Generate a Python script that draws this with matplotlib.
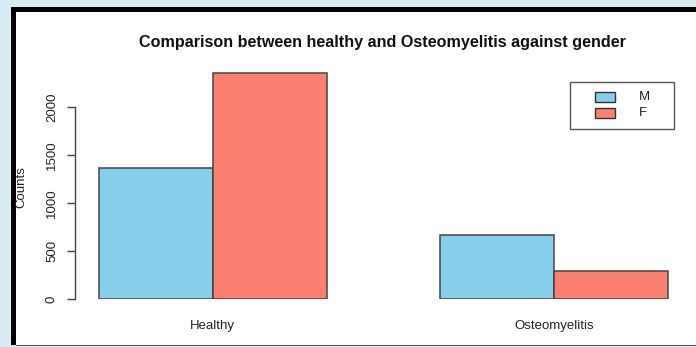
import matplotlib.pyplot as plt
from matplotlib.patches import Rectangle

# counts per group and gender
groups = ["Healthy", "Osteomyelitis"]
male = [1365, 667]
female = [2354, 292]
genders = ["M", "F"]
colors = ["#87CEEB", "#FA8072"]
yticks = [0, 500, 1000, 1500, 2000]

W, H = 696, 347
plt.rcParams['font.family'] = ['Liberation Sans', 'DejaVu Sans']

fig = plt.figure(figsize=(W / 100, H / 100), dpi=100, facecolor="#d6ebf2")


def fx(x):
    return x / W


def fy(y):
    return 1 - y / H


# white panel with black frame on top/left, grey line at the bottom
fig.patches.append(Rectangle((fx(16), fy(345)), fx(680), 333 / H, transform=fig.transFigure,
                             facecolor="white", edgecolor="none", zorder=-10))
fig.patches.append(Rectangle((fx(11), fy(12)), fx(685), 5 / H, transform=fig.transFigure,
                             facecolor="black", edgecolor="none", zorder=1))
fig.patches.append(Rectangle((fx(11), fy(345)), fx(5), 338 / H, transform=fig.transFigure,
                             facecolor="black", edgecolor="none", zorder=1))
fig.patches.append(Rectangle((fx(16), fy(346.3)), fx(680), 1.4 / H, transform=fig.transFigure,
                             facecolor="#555555", edgecolor="none", zorder=1))

# axes: 0 at y=299, 2000 at y=107, bar unit = 113.8 px
ppu_y = 192 / 2000
ppu_x = 113.8
ax_top = 64
ax = fig.add_axes([fx(75), fy(299), fx(696 - 75), (299 - ax_top) / H])
ax.set_facecolor("none")
ax.set_ylim(0, (299 - ax_top) / ppu_y)
ax.set_xlim(1 - 24 / ppu_x, 1 + (696 - 99) / ppu_x)

# R barplot(beside=TRUE) layout: one unit gap before each group
starts = [1 + 3 * i for i in range(len(groups))]
ax.bar(starts, male, width=1, align="edge", color=colors[0], edgecolor="#444444", linewidth=1.1)
ax.bar([s + 1 for s in starts], female, width=1, align="edge", color=colors[1],
       edgecolor="#444444", linewidth=1.1)

for side in ["top", "right", "bottom"]:
    ax.spines[side].set_visible(False)
ax.spines["left"].set_bounds(0, 2000)
ax.spines["left"].set_color("#444444")
ax.spines["left"].set_linewidth(1.0)

ax.set_yticks(yticks)
ax.set_yticklabels([str(v) for v in yticks], rotation=90, va="center", fontsize=9.5, color="#222222")
ax.tick_params(axis="y", length=5.8, width=1.0, color="#444444", pad=6.5)

ax.set_xticks([s + 1 for s in starts])
ax.set_xticklabels(groups, fontsize=9.5, color="#222222")
ax.tick_params(axis="x", length=0, pad=15)

fig.text(fx(21), fy(187), "Counts", rotation=90, ha="center", va="center", fontsize=9.5, color="#222222")
fig.text(fx(382), fy(42), "Comparison between healthy and Osteomyelitis against gender",
         ha="center", va="center", fontsize=11.6, fontweight="bold", color="#111111")

# legend box
fig.patches.append(Rectangle((fx(570), fy(129)), fx(104), 47 / H, transform=fig.transFigure,
                             facecolor="white", edgecolor="#555555", linewidth=1.0, zorder=3))
for i, (g, c) in enumerate(zip(genders, colors)):
    yc = 97 + i * 16
    fig.patches.append(Rectangle((fx(595), fy(yc + 5)), fx(20), 10 / H, transform=fig.transFigure,
                                 facecolor=c, edgecolor="#333333", linewidth=1.0, zorder=4))
    fig.text(fx(639), fy(yc), g, ha="left", va="center", fontsize=9.5, color="#222222", zorder=5)

fig.savefig("out.png", dpi=100, facecolor=fig.get_facecolor())
